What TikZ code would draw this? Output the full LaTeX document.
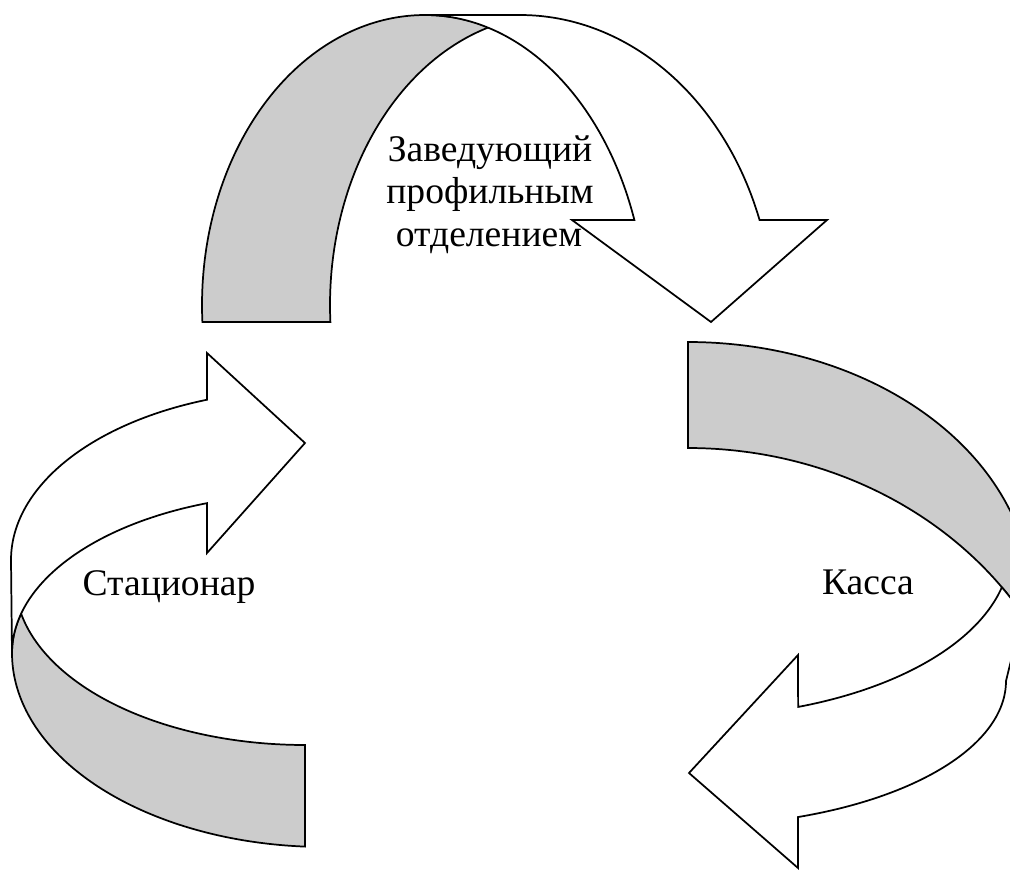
\documentclass[tikz,border=0pt]{standalone}
\usepackage{fontspec}
\setmainfont{Liberation Serif}
\definecolor{bandgray}{RGB}{204,204,204}
\newcommand\lblfont{\fontsize{28.2}{33}\selectfont}
\tikzset{
  band/.style={draw=black, line width=1.3pt, line join=miter, miter limit=6},
  backband/.style={band, fill=bandgray},
  frontband/.style={band, fill=white},
  lbl/.style={font=\lblfont, anchor=base, inner sep=0pt}
}
\begin{document}
\begin{tikzpicture}[x=0.75pt, y=-0.75pt]
\useasboundingbox (0,0) rectangle (1010,870);
\clip (0,0) rectangle (1010,870);

% ---------- top arrow (curved down) ----------
\draw[backband]
  plot[domain=176.64:286.4, samples=90] ({425+223*cos(\x)},{305+290*sin(\x)})
  -- plot[domain=-253.05:-176.64, samples=90] ({553+223*cos(-\x)},{305+290*sin(-\x)})
  -- cycle;
\draw[frontband]
  (425,15)
  -- plot[domain=270:340.6, samples=90] ({520+254*cos(\x)},{322+307*sin(\x)})
  -- (827,220) -- (711,322) -- (572,220)
  -- plot[domain=-340.6:-270, samples=90] ({425+222*cos(-\x)},{322+307*sin(-\x)})
  -- cycle;

% ---------- right arrow (curved left) ----------
\draw[backband]
  plot[domain=270:352, samples=90] ({688+344*cos(\x)},{602+260*sin(\x)})
  -- plot[domain=-327.4:-270, samples=90] ({688+394*cos(-\x)},{800+352*sin(-\x)})
  -- cycle;
\draw[frontband]
  plot[domain=12.8:70, samples=90] ({688+322*cos(\x)},{550+167*sin(\x)})
  -- (798,655) -- (689,773) -- (798,868)
  -- plot[domain=-69.76:0, samples=90] ({688+318*cos(-\x)},{681+145*sin(-\x)})
  -- (1016,640)
  -- plot[domain=-327.4:-322.8, samples=20] ({688+394*cos(-\x)},{800+352*sin(-\x)})
  -- cycle;

% ---------- left arrow (curved right) ----------
\draw[backband]
  plot[domain=93.66:180, samples=90] ({325+313*cos(\x)},{653+194*sin(\x)})
  -- plot[domain=180:194.27, samples=20] ({305+293*cos(\x)},{653+159*sin(\x)})
  -- plot[domain=-168.18:-90, samples=90] ({305+290*cos(-\x)},{580+165*sin(-\x)})
  -- cycle;
\draw[frontband]
  plot[domain=-250.53:-180, samples=90] ({305+294*cos(-\x)},{560+170*sin(-\x)})
  -- plot[domain=180:250.46, samples=90] ({305+293*cos(\x)},{653+159*sin(\x)})
  -- (207,553) -- (305,443) -- (207,353)
  -- cycle;

% ---------- labels ----------
\node[lbl] (zav1) at (490,162) {Заведующий};
\node[lbl] (zav2) at (490,204) {профильным};
\node[lbl] (zav3) at (489,246) {отделением};
\node[lbl] (stac) at (169,595) {Стационар};
\node[lbl] (kassa) at (868,594) {Касса};
\end{tikzpicture}
\end{document}
